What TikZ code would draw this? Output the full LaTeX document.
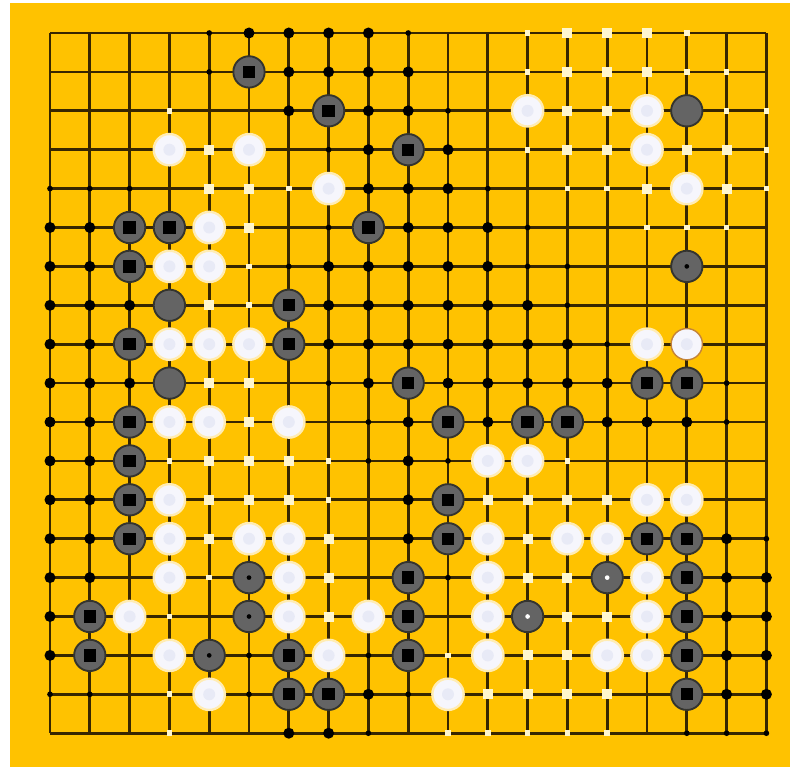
\documentclass[tikz,border=0pt]{standalone}
\usepackage{xcolor}
\usepackage{tikz}
\definecolor{boardyellow}{RGB}{255,194,0}
\definecolor{gridbrown}{RGB}{55,38,0}
\definecolor{stonegray}{RGB}{100,100,100}
\definecolor{stonerim}{RGB}{52,52,46}
\definecolor{whitestone}{RGB}{246,246,252}
\definecolor{whitecore}{RGB}{232,234,246}
\definecolor{whiterim}{RGB}{255,236,180}
\definecolor{markcream}{RGB}{255,246,205}
\definecolor{ringorange}{RGB}{196,132,58}

\tikzset{
    gridline/.style={draw=gridbrown, line width=2.3pt},
    blackstone/.style={circle, fill=stonegray, draw=stonerim, line width=1.6pt, minimum size=0.94cm, inner sep=0pt},
    blacksquare/.style={rectangle, fill=black, minimum size=0.37cm, inner sep=0pt},
    graystone/.style={circle, fill=stonegray, draw=stonerim, line width=1.6pt, minimum size=0.94cm, inner sep=0pt},
    whitestn/.style={circle, fill=whitestone, draw=whiterim, line width=2pt, minimum size=0.94cm, inner sep=0pt},
    whitecentre/.style={circle, fill=whitecore, minimum size=0.36cm, inner sep=0pt},
    ringstone/.style={circle, fill=whitestone, draw=ringorange, line width=1.2pt, minimum size=0.94cm, inner sep=0pt},
    blackdot/.style={circle, fill=black, minimum size=0.33cm, inner sep=0pt},
    smalldot/.style={circle, fill=black, minimum size=0.17cm, inner sep=0pt},
    centredot/.style={circle, minimum size=0.14cm, inner sep=0pt},
    whitesq/.style={rectangle, fill=markcream, minimum size=0.3cm, inner sep=0pt},
    smallsq/.style={rectangle, fill=markcream, minimum size=0.17cm, inner sep=0pt}
}

% one macro per cell code
\newcommand{\celln}[2]{}
\newcommand{\cellB}[2]{\node (b-#1-#2) [blackstone] at (#1,#2) {}; \node (bq-#1-#2) [blacksquare] at (b-#1-#2) {};}
\newcommand{\cellG}[2]{\node (g-#1-#2) [graystone] at (#1,#2) {};}
\newcommand{\cellD}[2]{\node (g-#1-#2) [graystone] at (#1,#2) {}; \node (gd-#1-#2) [centredot, fill=black] at (g-#1-#2) {};}
\newcommand{\cellE}[2]{\node (g-#1-#2) [graystone] at (#1,#2) {}; \node (gd-#1-#2) [centredot, fill=white] at (g-#1-#2) {};}
\newcommand{\cellW}[2]{\node (w-#1-#2) [whitestn] at (#1,#2) {}; \node (wc-#1-#2) [whitecentre] at (w-#1-#2) {};}
\newcommand{\cellR}[2]{\node (w-#1-#2) [ringstone] at (#1,#2) {}; \node (wc-#1-#2) [whitecentre] at (w-#1-#2) {};}
\newcommand{\celld}[2]{\node (d-#1-#2) [blackdot] at (#1,#2) {};}
\newcommand{\cells}[2]{\node (d-#1-#2) [smalldot] at (#1,#2) {};}
\newcommand{\cellq}[2]{\node (q-#1-#2) [whitesq] at (#1,#2) {};}
\newcommand{\cellp}[2]{\node (q-#1-#2) [smallsq] at (#1,#2) {};}

\begin{document}
\begin{tikzpicture}[x=1.194cm, y=-1.167cm]
    % background and margins
    \fill[white] (-1.2563,-0.8483) rectangle (18.593,18.869);
    \fill[boardyellow] (-1.005,-0.771) rectangle (18.593,18.869);
    \useasboundingbox (-1.2563,-0.8483) rectangle (18.593,18.869);

    % grid
    \foreach \i in {0,...,18} {
        \draw[gridline] (\i,0) -- (\i,18);
        \draw[gridline] (0,\i) -- (18,\i);
    }

    % stones and marks, row by row
    \foreach \rowlist [count=\gy from 0] in {
        {n,n,n,n,s,d,d,d,d,s,n,n,p,q,q,q,p,n,n},
        {n,n,n,n,s,B,d,d,d,d,n,n,p,q,q,q,p,p,n},
        {n,n,n,p,n,n,d,B,d,d,s,n,W,q,q,W,G,p,p},
        {n,n,n,W,q,W,n,s,d,B,d,n,p,q,q,W,q,q,p},
        {s,s,s,n,q,q,p,W,d,d,d,s,n,p,p,q,W,q,p},
        {d,d,B,B,W,q,n,s,B,d,d,d,s,n,n,p,p,p,n},
        {d,d,B,W,W,p,s,d,d,d,d,d,s,s,n,n,D,n,n},
        {d,d,d,G,q,p,B,d,d,d,d,d,d,s,n,n,n,n,n},
        {d,d,B,W,W,W,B,d,d,d,d,d,d,d,s,W,R,n,n},
        {d,d,d,G,q,q,n,s,d,B,d,d,d,d,d,B,B,s,n},
        {d,d,B,W,W,q,W,n,s,d,B,d,B,B,d,d,d,s,n},
        {d,d,B,p,q,q,q,p,s,d,s,W,W,p,n,n,n,n,n},
        {d,d,B,W,q,q,q,p,n,d,B,q,q,q,q,W,W,n,n},
        {d,d,B,W,q,W,W,q,n,d,B,W,q,W,W,B,B,d,s},
        {d,d,n,W,p,D,W,q,n,B,s,W,q,q,E,W,B,d,d},
        {d,B,W,p,n,D,W,q,W,B,n,W,E,q,q,W,B,d,d},
        {d,B,n,W,D,s,B,W,s,B,p,W,q,q,W,W,B,d,d},
        {s,s,n,p,W,s,B,B,d,s,W,q,q,q,q,n,B,d,d},
        {n,n,n,p,n,n,d,d,s,n,p,p,p,p,p,n,s,s,s}} {
        \foreach \k [count=\gx from 0] in \rowlist {
            \csname cell\k\endcsname{\gx}{\gy}
        }
    }
\end{tikzpicture}
\end{document}
